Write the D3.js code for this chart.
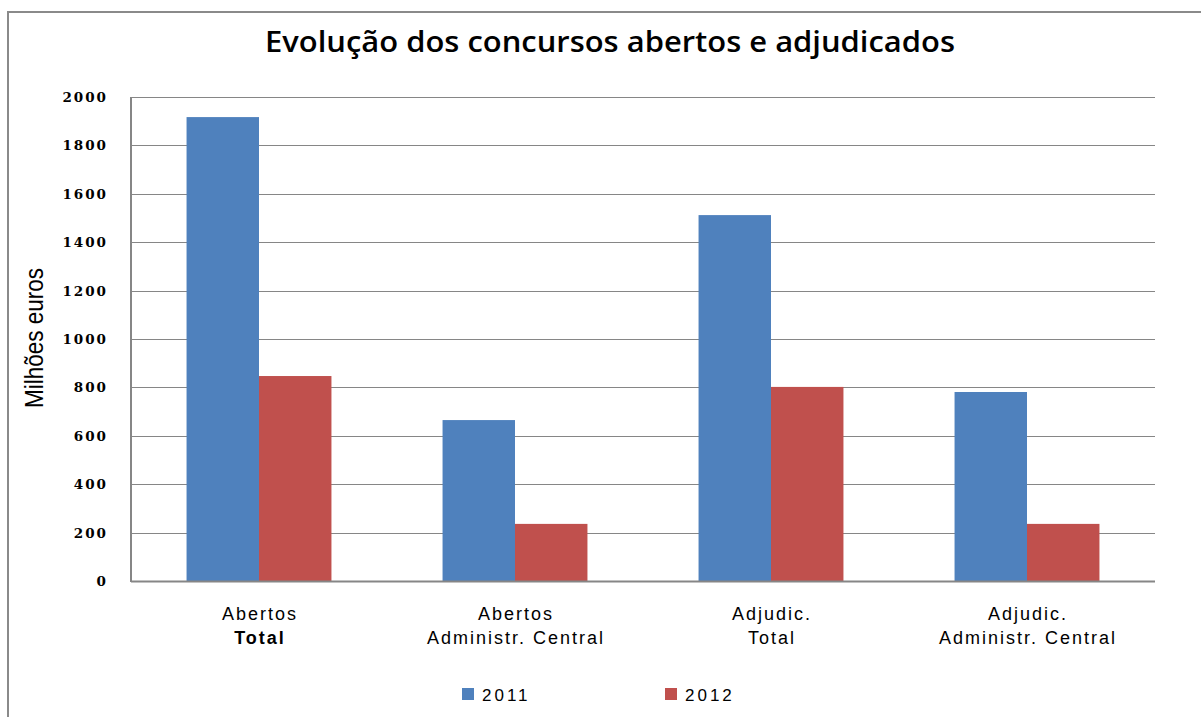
<!DOCTYPE html>
<html><head><meta charset="utf-8">
<script src="https://cdn.jsdelivr.net/npm/d3@7"></script>
<style>
html,body{margin:0;padding:0;background:#fff;}
svg{display:block;}
</style></head>
<body>
<script>
const categories = [["Abertos","Total"],["Abertos","Administr. Central"],["Adjudic.","Total"],["Adjudic.","Administr. Central"]];
const seriesNames = ["2011","2012"];
const values2011 = [1917, 665, 1512, 781];
const values2012 = [847, 236, 802, 236];
const yTicks = [0,200,400,600,800,1000,1200,1400,1600,1800,2000];
const colors = ["#4f81bd","#c0504d"];

const W = 1201, H = 717;
const svg = d3.select("body").append("svg").attr("width", W).attr("height", H);

// outer frame
svg.append("path").attr("d","M8,717 L8,12 L1201,12").attr("fill","none").attr("stroke","#8a8a8a").attr("stroke-width",2);

const plot = {left:131, right:1155, top:97, bottom:581};
const x0 = d3.scaleBand().domain(d3.range(categories.length)).range([plot.left, plot.right]).paddingInner(0.434).paddingOuter(0.217);
const x1 = d3.scaleBand().domain(seriesNames).range([0, x0.bandwidth()]);
const y = d3.scaleLinear().domain([0,2000]).range([plot.bottom, plot.top]);

// gridlines
svg.append("g").selectAll("line").data(yTicks.filter(d=>d>0)).join("line")
  .attr("x1", plot.left).attr("x2", plot.right)
  .attr("y1", d=>Math.round(y(d))+0.5).attr("y2", d=>Math.round(y(d))+0.5)
  .attr("stroke","#868686").attr("stroke-width",1);

// bars
const data = categories.map((c,i)=>({i, vals:[values2011[i], values2012[i]]}));
const g = svg.append("g");
g.selectAll("g").data(data).join("g")
  .attr("transform", d=>`translate(${x0(d.i)},0)`)
  .selectAll("rect").data(d=>d.vals.map((v,k)=>({v, s:seriesNames[k], k})))
  .join("rect")
  .attr("x", d=>x1(d.s)).attr("width", x1.bandwidth())
  .attr("y", d=>y(d.v)).attr("height", d=>y(0)-y(d.v))
  .attr("fill", d=>colors[d.k]);

// axes lines
svg.append("line").attr("x1",plot.left).attr("x2",plot.left).attr("y1",plot.top).attr("y2",plot.bottom+1)
  .attr("stroke","#868686").attr("stroke-width",2);
svg.append("line").attr("x1",plot.left).attr("x2",plot.right).attr("y1",plot.bottom+0.5).attr("y2",plot.bottom+0.5)
  .attr("stroke","#868686").attr("stroke-width",2);

// y tick labels
svg.append("g").selectAll("text").data(yTicks).join("text")
  .attr("x", 108).attr("y", d=>y(d)+5)
  .attr("text-anchor","end")
  .attr("font-family","'DejaVu Serif', serif").attr("font-weight","bold").attr("font-size",13.5)
  .attr("letter-spacing","2")
  .text(d=>d);

// y title
svg.append("text").attr("transform","translate(43,338) rotate(-90)")
  .attr("text-anchor","middle")
  .attr("font-family","'Liberation Sans',Arial,sans-serif").attr("font-size",26)
  .attr("textLength",140).attr("lengthAdjust","spacingAndGlyphs")
  .text("Milhões euros");

// title
svg.append("text").attr("x", 610).attr("y", 52).attr("text-anchor","middle")
  .attr("font-family","'Open Sans','DejaVu Sans',sans-serif").attr("font-weight","600").attr("font-size",28)
  .attr("textLength",690).attr("lengthAdjust","spacingAndGlyphs")
  .text("Evolução dos concursos abertos e adjudicados");

// category labels
const cl = svg.append("g");
categories.forEach((c,i)=>{
  const cx = x0(i) + x0.bandwidth()/2 + 1;
  c.forEach((line,j)=>{
    cl.append("text").attr("x", cx).attr("y", 620 + j*24).attr("text-anchor","middle")
      .attr("font-family","'Liberation Sans',Arial,sans-serif").attr("font-size",18)
      .attr("font-weight", (i===0 && j===1) ? "bold" : "normal")
      .attr("letter-spacing","2")
      .text(line);
  });
});

// legend
const legX = [462, 665];
seriesNames.forEach((s,k)=>{
  svg.append("rect").attr("x", legX[k]).attr("y", 688).attr("width",12).attr("height",12).attr("fill",colors[k]);
  svg.append("text").attr("x", legX[k]+20).attr("y", 701)
    .attr("font-family","'Liberation Sans',Arial,sans-serif").attr("font-size",17).attr("letter-spacing","3")
    .text(s);
});
</script>
</body></html>
